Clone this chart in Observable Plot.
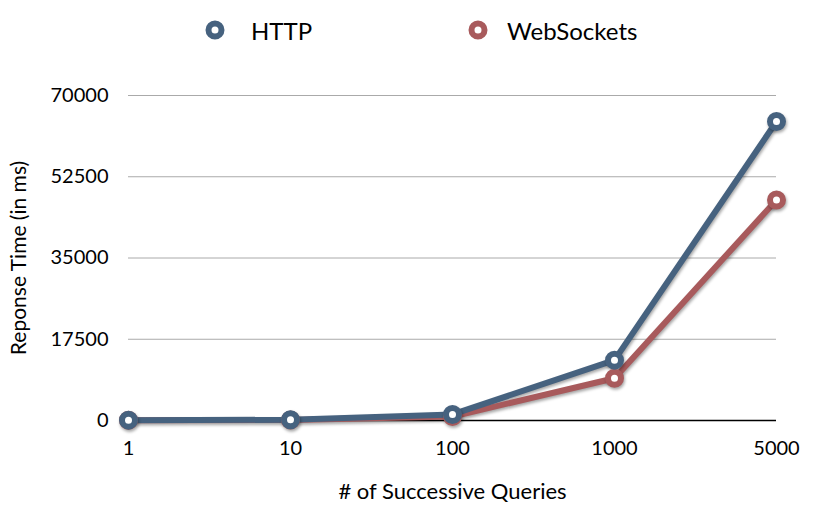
<!DOCTYPE html>
<html>
<head>
<meta charset="utf-8">
<script src="https://cdn.jsdelivr.net/npm/d3@7"></script>
<script src="https://cdn.jsdelivr.net/npm/@observablehq/plot@0.6"></script>
<style>
  body { margin: 0; background: #fff; font-family: "Lato", "DejaVu Sans", sans-serif; }
  #legend { position: relative; height: 60px; width: 816px; }
  .item { position: absolute; top: 0; height: 60px; display: flex; align-items: center; font-size: 24px; color: #000; }
  g[aria-label="x-axis label"] text { font-size: 22px; }
  g[aria-label="y-axis label"] text { font-size: 21px; }
</style>
</head>
<body>
<div id="legend"></div>
<div id="chart"></div>
<script>
const queries = ["1", "10", "100", "1000", "5000"];
const httpTimes = [80, 150, 1300, 13000, 64400];
const wsTimes = [60, 100, 850, 9100, 47500];
const seriesNames = ["HTTP", "WebSockets"];
const seriesColors = ["#46627f", "#a85a5c"];
const yTicks = [0, 17500, 35000, 52500, 70000];

const data = [];
queries.forEach((q, i) => data.push({series: "WebSockets", q, t: wsTimes[i]}));
queries.forEach((q, i) => data.push({series: "HTTP", q, t: httpTimes[i]}));

// legend
const legend = document.getElementById("legend");
const legendLeft = [204, 467];
const legendGap = [25, 18];
seriesNames.forEach((name, i) => {
  const d = document.createElement("div");
  d.className = "item";
  d.style.left = legendLeft[i] + "px";
  d.innerHTML = `<svg width="22" height="22" style="margin-right:${legendGap[i]}px"><circle cx="11" cy="11" r="6.5" fill="white" stroke="${seriesColors[i]}" stroke-width="6"/></svg><span>${name}</span>`;
  legend.appendChild(d);
});

const shadow = "drop-shadow(1.5px 2px 1.5px rgba(0,0,0,0.35))";
const chart = Plot.plot({
  width: 816,
  height: 452,
  marginTop: 35,
  marginBottom: 92,
  marginLeft: 128,
  marginRight: 40,
  style: { fontFamily: "Lato, 'DejaVu Sans', sans-serif", fontSize: "20px", color: "#000", background: "#fff" },
  x: { type: "point", domain: queries, padding: 0 },
  y: { domain: [0, 70000], ticks: yTicks },
  color: { domain: seriesNames, range: seriesColors },
  marks: [
    Plot.gridY(yTicks, { stroke: "#aaa", strokeOpacity: 1, strokeWidth: 1 }),
    Plot.ruleY([0], { stroke: "#000", strokeWidth: 1.5 }),
    Plot.axisY(yTicks, { tickSize: 0, tickPadding: 20, tickFormat: d => String(d), fontSize: 20,
      label: "Reponse Time (in ms)", labelAnchor: "center", labelArrow: "none", labelOffset: 117 }),
    Plot.axisX(queries, { tickSize: 0, tickPadding: 20, fontSize: 20,
      label: "# of Successive Queries", labelAnchor: "center", labelArrow: "none", labelOffset: 78 }),
    Plot.line(data, { x: "q", y: "t", z: "series", stroke: "series", strokeWidth: 6, strokeLinejoin: "round", imageFilter: shadow }),
    Plot.dot(data, { x: "q", y: "t", stroke: "series", fill: "white", r: 6.5, strokeWidth: 6, imageFilter: shadow })
  ]
});
document.getElementById("chart").appendChild(chart);
</script>
</body>
</html>
